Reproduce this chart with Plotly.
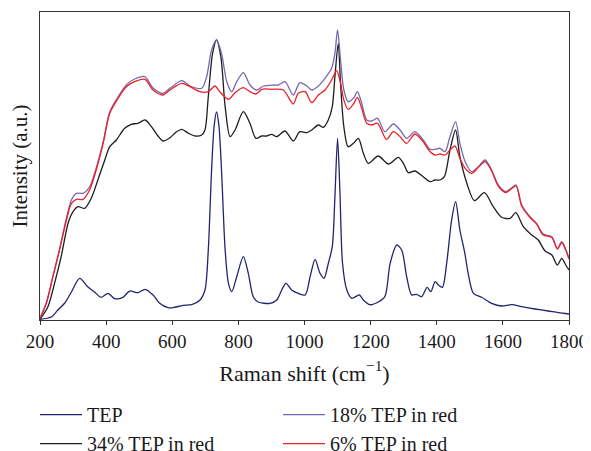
import plotly.graph_objects as go

# ---- data (Raman shift in cm^-1, intensity in arbitrary units) ----
tep_x = [200,234,254,275,295,320,345,365,385,406,426,451,471,496,518,542,562,587,602,633,659,684,699,709,719,727,734,741,749,760,770,780,795,815,830,845,860,896,916,931,944,961,981,1002,1017,1032,1047,1059,1072,1084,1092,1100,1107,1115,1128,1143,1166,1178,1198,1223,1243,1259,1279,1294,1309,1324,1339,1354,1371,1382,1395,1405,1417,1430,1445,1457,1470,1485,1495,1511,1536,1566,1596,1627,1657,1697,1737,1768,1800]
tep_y = [0.7,3,10,17,28,41.7,33,28,22.7,26.7,21.3,22.7,29,27.3,30.7,25,16.7,12.3,12.3,14.7,15.3,20,30,70,150,195,208,195,150,70,36.7,28.3,43.3,63.3,46.7,23.3,18,16.7,20,30,36.7,30,26.7,25,43.3,60.7,46.7,41.7,56.7,73.3,123.3,181.7,130,56.7,30,21.7,25,20,15.3,18,23.3,56.7,75,70,43.3,25,25.7,23.3,32.7,28.3,38.3,35,32.7,56.7,100,118.3,90,66.7,46.7,26.7,22.7,16.7,14,15.3,13.3,11,9,7.3,6]

tep34_x = [200,224,244,264,285,300,315,335,355,375,396,411,431,456,476,496,518,537,557,572,593,613,629,649,669,689,699,709,722,734,747,760,775,790,815,835,853,871,886,901,916,941,966,986,1007,1022,1042,1057,1072,1084,1092,1102,1109,1119,1132,1148,1163,1178,1193,1223,1254,1284,1299,1314,1334,1359,1380,1395,1410,1423,1440,1457,1470,1491,1514,1544,1571,1596,1622,1639,1662,1687,1707,1727,1748,1765,1778,1790,1800]
tep34_y = [0.7,13.3,36.7,63.3,96.7,108.3,113.3,111.7,121.7,140,160,173.3,180,191.7,195.7,196.7,200,193.3,184,179,182.3,188.3,190.7,186.7,184,185,190,223.3,266.7,280,263.3,213.3,183.3,190,208.3,196.7,181.7,184,184,185.7,183.3,189,179,188.3,187.3,190,195,192.7,200,213.3,243.3,276.7,236.7,193.3,173.3,176.7,181.7,166.7,156.7,164,156,162.7,156.7,147.3,149,143.3,138.3,140,140,143.3,170,190,163.3,136.7,119.3,127.3,113.3,102.7,101.7,107.3,93.3,85,80,69.3,65,55,61.7,55,50]

tep18_x = [200,219,239,260,280,295,310,330,350,370,391,411,436,461,486,517,542,572,593,629,654,689,704,719,734,749,765,780,795,815,835,855,876,906,921,941,966,986,1007,1022,1042,1062,1082,1092,1100,1109,1119,1132,1148,1160,1173,1188,1203,1221,1243,1269,1289,1309,1334,1359,1380,1395,1410,1425,1440,1457,1470,1486,1506,1526,1546,1566,1586,1609,1627,1640,1657,1682,1702,1722,1748,1765,1778,1790,1800]
tep18_y = [1.7,16.7,43.3,71.7,102,120,126.7,126.7,133,152,178,208,223,235,241,243.3,232,226.7,231.7,239.3,234,231.7,243.3,270,280,266.7,238.3,228.3,238.3,247.3,235,230,234,235,235,238.3,225,237.3,234,230,234,241.7,251.7,266.7,290,260,230,218.3,221.7,228.3,216.7,200,199,201.7,188.3,196,190,181.7,188.3,180,170.7,170.7,171.7,168.3,183.3,198.3,176.7,158.3,148.3,153.3,160,150,135,128.3,132.3,135,115,103.3,96.7,86,83.3,71.7,78.3,70.7,61.7]

tep6_x = [200,219,239,260,280,295,310,330,350,370,391,411,436,461,486,517,542,572,593,629,654,684,709,729,744,770,790,815,835,853,871,901,936,966,981,1002,1022,1042,1062,1082,1097,1107,1119,1132,1148,1160,1173,1188,1203,1221,1248,1269,1289,1309,1334,1359,1380,1395,1410,1425,1440,1455,1470,1486,1506,1526,1546,1566,1586,1609,1627,1640,1657,1682,1702,1722,1748,1765,1778,1790,1800]
tep6_y = [1.7,16.7,43.3,71.7,100,116.7,120.7,120.7,130,150,176.7,206.7,221.7,233.3,238.3,240.7,230,225,230,236.7,233.3,228.3,228.3,234,228.3,220.7,227.3,232.3,228.3,226,230.7,230.7,230,216,226.7,228.3,217.3,225,230,240,249.3,240,220,210.7,216,222.7,211.7,196.7,195,196.7,180.7,188.3,183.3,176.7,186,178.3,168.3,165,166,165,170,174,161.7,151.7,146.7,152.7,158.3,149,134,127.5,131.5,134,114,102.5,96,85,82.5,71,77.5,70,61]

x_ticks = [200, 400, 600, 800, 1000, 1200, 1400, 1600, 1800]

FONT = "Liberation Serif"
TXT = "#1a1a1a"

fig = go.Figure()
series = [
    ("TEP", tep_x, tep_y, "#23236e", 1),
    ("34% TEP in red", tep34_x, tep34_y, "#1e1e1e", 3),
    ("18% TEP in red", tep18_x, tep18_y, "#7a66ad", 2),
    ("6% TEP in red", tep6_x, tep6_y, "#ee2027", 4),
]
for name, xs, ys, col, rank in series:
    fig.add_trace(go.Scatter(
        x=xs, y=ys, mode="lines", name=name, legendrank=rank,
        line=dict(color=col, width=1.3, shape="spline", smoothing=0.8),
    ))

# The page body adds an 8 px offset, so the figure is 8 px smaller on each axis.
fig.update_layout(
    width=583, height=443,
    margin=dict(l=32, r=22, t=4, b=131),
    paper_bgcolor="white", plot_bgcolor="white",
    font=dict(family=FONT, size=20, color=TXT),
    showlegend=True,
    legend=dict(
        orientation="h", xref="container", x=0.0463, xanchor="left",
        yref="container", y=0.1262, yanchor="top",
        itemwidth=42,
        entrywidth=186, entrywidthmode="pixels",
        font=dict(family=FONT, size=20, color=TXT),
        bgcolor="rgba(0,0,0,0)",
    ),
    xaxis=dict(
        range=[200, 1800], tickvals=x_ticks, ticks="outside", ticklen=4,
        tickwidth=1, tickcolor="#333", showline=True, linecolor="#333",
        linewidth=1, mirror=True, showgrid=False, zeroline=False,
        automargin=False, ticklabelstandoff=0,
        title=dict(text="Raman shift (cm<sup>−1</sup>)", standoff=14,
                   font=dict(family=FONT, size=22)),
        tickfont=dict(family=FONT, size=19),
    ),
    yaxis=dict(
        range=[0, 308], showticklabels=False, ticks="", showline=True,
        linecolor="#333", linewidth=1, mirror=True, showgrid=False,
        zeroline=False, automargin=False,
        title=dict(text="Intensity (a.u.)", standoff=11,
                   font=dict(family=FONT, size=21)),
    ),
)

fig.write_html("out.html")
